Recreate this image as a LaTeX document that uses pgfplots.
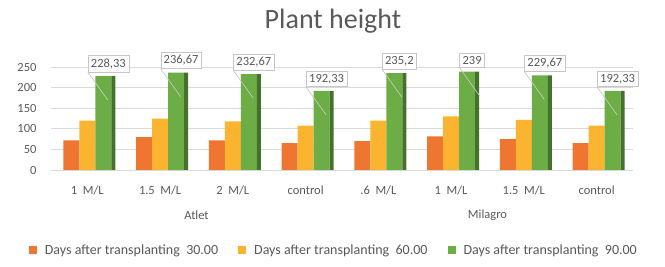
\documentclass[border=0pt]{standalone}
\usepackage{pgfplots}
\pgfplotsset{compat=1.18}
\usepackage{fontspec}
\setmainfont{Carlito}
\definecolor{corange}{HTML}{EE7631}
\definecolor{cyellow}{HTML}{FBB430}
\definecolor{cgreen}{HTML}{6CAE45}
\definecolor{txt}{HTML}{595959}
\begin{document}
\begin{tikzpicture}
\path[use as bounding box] (0pt,0pt) rectangle (665pt,267pt);
\node[text=txt, font=\fontsize{28}{30}\selectfont] at (333pt,246pt) {Plant height};
\begin{axis}[
  at={(51pt,97pt)}, anchor=south west,
  scale only axis, width=582pt, height=107pt,
  ybar, bar width=16pt,
  enlarge x limits=false, enlarge y limits=false,
  ymin=0, ymax=260, ytick={0,50,...,250},
  xmin=-0.5, xmax=7.5, xtick={0,...,7},
  xticklabels={1\ \ M/L,1.5\ \ M/L,2\ \ M/L,control,.6\ \ M/L,1\ \ M/L,1.5\ \ M/L,control},
  axis line style={draw=none}, major tick length=0pt,
  ymajorgrids, grid style={gray!30, line width=0.8pt},
  tick label style={text=txt, font=\fontsize{12.5}{14}\selectfont},
  yticklabel style={xshift=-11pt},
  xticklabel style={yshift=-12pt},
  /pgf/number format/assume math mode=true,
  legend columns=3,
  legend style={draw=none, font=\fontsize{14}{16}\selectfont, text=txt, at={(0.486,-0.75)}, anchor=center,
    /tikz/every even column/.append style={column sep=18pt},
    /tikz/every odd column/.append style={column sep=6pt}},
  legend image code/.code={\fill[#1] (0pt,-4pt) rectangle (8pt,4pt);},
  clip=false,
]
\addplot[fill=corange, draw=none, bar shift=-16pt]
  coordinates {(0,72) (1,80) (2,72) (3,65) (4,70) (5,82) (6,75) (7,65)};
\addplot[fill=cyellow, draw=none, bar shift=0pt]
  coordinates {(0,120) (1,125) (2,118) (3,108) (4,120) (5,130) (6,122) (7,108)};
\addplot[fill=cgreen, draw=none, bar shift=16pt,
  point meta=explicit symbolic, nodes near coords,
  every node near coord/.append style={draw=gray!45, fill=white, text=txt, font=\fontsize{12.5}{14}\selectfont, anchor=south, yshift=4pt, xshift=5pt, inner sep=3pt,
    append after command={(\tikzlastnode.south west) edge[draw=gray!40, line width=0.6pt] +(20pt,-28pt)}}]
  coordinates {(0,228.33) [228,33] (1,236.67) [236,67] (2,232.67) [232,67] (3,192.33) [192,33] (4,235.2) [235,2] (5,239) [239] (6,229.67) [229,67] (7,192.33) [192,33]};
\addplot[fill=cgreen!65!black, draw=none, bar shift=26pt, bar width=4pt, forget plot]
  coordinates {(0,228.33) (1,236.67) (2,232.67) (3,192.33) (4,235.2) (5,239) (6,229.67) (7,192.33)};
\legend{Days after transplanting\ \ 30.00, Days after transplanting\ \ 60.00, Days after transplanting\ \ 90.00}
\node[text=txt, font=\fontsize{12.5}{14}\selectfont] at (axis cs:1.5,0) [yshift=-45pt] {Atlet};
\node[text=txt, font=\fontsize{12.5}{14}\selectfont] at (axis cs:5.5,0) [yshift=-45pt] {Milagro};
\end{axis}
\end{tikzpicture}
\end{document}
